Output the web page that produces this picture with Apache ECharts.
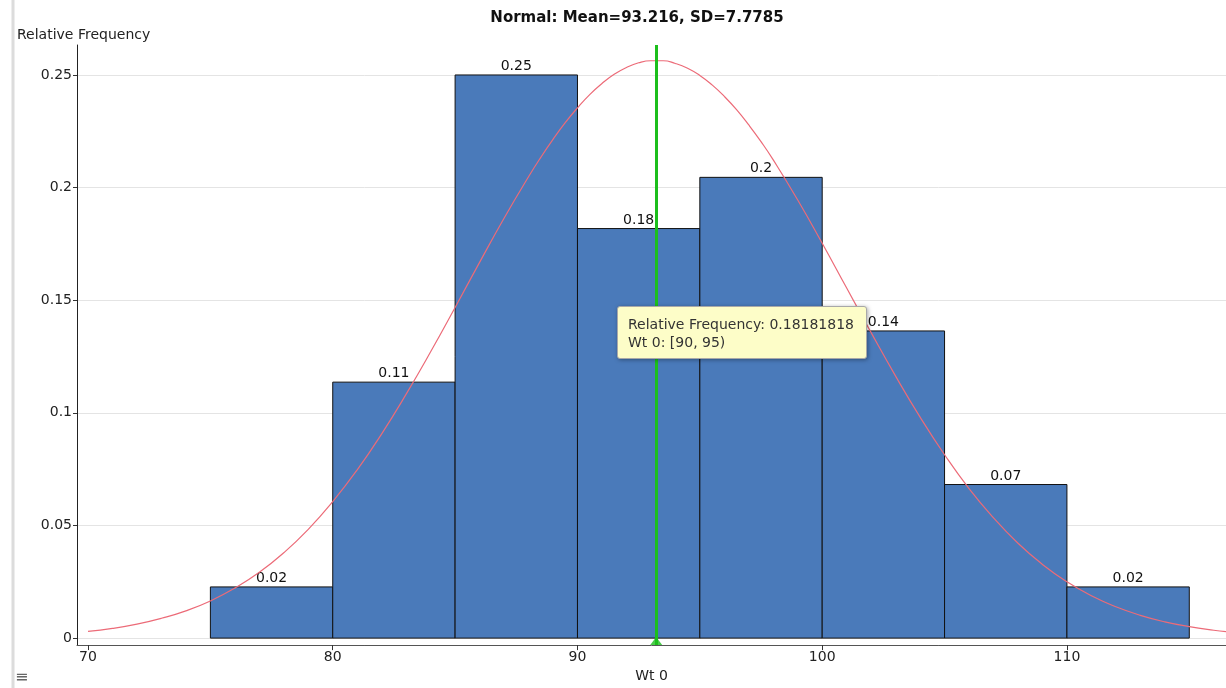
<!DOCTYPE html>
<html>
<head>
<meta charset="utf-8">
<script src="https://cdn.jsdelivr.net/npm/echarts@6/dist/echarts.min.js"></script>
<style>
  html, body { margin: 0; padding: 0; background: #fff; }
  #main { width: 1226px; height: 688px; }
</style>
</head>
<body>
<div id="main"></div>
<script>
var title = 'Normal: Mean=93.216, SD=7.7785';
var mean = 93.216;

// histogram bins [start, end) and relative frequencies
var binStart = [75, 80, 85, 90, 95, 100, 105, 110];
var binEnd = [80, 85, 90, 95, 100, 105, 110, 115];
var relFreq = [0.02272727, 0.11363636, 0.25, 0.18181818, 0.20454545, 0.13636364, 0.06818182, 0.02272727];

// normal curve
var curveX = [70, 71, 72, 73, 74, 75, 76, 77, 78, 79, 80, 81, 82, 83, 84, 85, 86, 87, 88, 88.5, 89, 89.5, 90, 90.5,
              91, 91.5, 92, 92.5, 93, 93.5, 94, 94.5, 95, 95.5, 96, 96.5, 97, 97.5, 98, 99, 100, 101, 102, 103, 104,
              105, 106, 107, 108, 109, 110, 111, 112, 113, 114, 115, 116, 116.5];
var curveY = [0.0030, 0.0043, 0.0062, 0.0088, 0.0121, 0.0165, 0.0222, 0.0292, 0.0379, 0.0483, 0.0606, 0.0747,
              0.0907, 0.1083, 0.1271, 0.1468, 0.1668, 0.1864, 0.2048, 0.2134, 0.2214, 0.2288, 0.2354, 0.2413,
              0.2462, 0.2503, 0.2533, 0.2554, 0.2563, 0.2563, 0.2551, 0.2530, 0.2498, 0.2456, 0.2405, 0.2346,
              0.2278, 0.2204, 0.2123, 0.1945, 0.1753, 0.1554, 0.1356, 0.1163, 0.0981, 0.0814, 0.0664, 0.0534,
              0.0421, 0.0327, 0.0250, 0.0188, 0.0139, 0.0101, 0.0072, 0.0051, 0.0035, 0.0029];

var xTicks = [70, 80, 90, 100, 110];
var yTicks = [0, 0.05, 0.1, 0.15, 0.2, 0.25];

var font = 'DejaVu Sans, Verdana, sans-serif';

var barData = [];
for (var i = 0; i < binStart.length; i++) {
    barData.push([binStart[i], binEnd[i], relFreq[i]]);
}
var curveData = [];
for (var j = 0; j < curveX.length; j++) {
    curveData.push([curveX[j], curveY[j]]);
}

var yMin = -0.0031, yMax = 0.2633;

var myChart = echarts.init(document.getElementById('main'));
var option = {
    animation: false,
    backgroundColor: '#fff',
    title: {
        text: title,
        left: 632,
        top: 6,
        textAlign: 'center',
        textStyle: { fontFamily: font, fontSize: 15, fontWeight: 'bold', color: '#111' }
    },
    tooltip: {
        trigger: 'item',
        alwaysShowContent: true,
        transitionDuration: 0,
        position: [617, 306],
        backgroundColor: '#fdfdc8',
        borderColor: '#a8a8a8',
        borderWidth: 1,
        padding: [8, 12, 7, 10],
        extraCssText: 'border-radius:3px;box-shadow:1px 1px 4px rgba(0,0,0,0.35);line-height:18px;',
        textStyle: { fontFamily: font, fontSize: 14, color: '#333' },
        formatter: function (p) {
            return 'Relative Frequency: ' + p.value[2] + '<br/>Wt 0: [' + p.value[0] + ', ' + p.value[1] + ')';
        }
    },
    grid: { left: 77, right: 0, top: 45, bottom: 40 },
    xAxis: {
        type: 'value',
        min: 69.55,
        max: 116.5,
        name: 'Wt 0',
        nameLocation: 'middle',
        nameGap: 23,
        nameTextStyle: { fontFamily: font, fontSize: 14, color: '#222' },
        axisLine: { onZero: false, lineStyle: { color: '#555', width: 1 } },
        axisTick: { show: true, length: 5, customValues: xTicks, lineStyle: { color: '#333' } },
        axisLabel: { customValues: xTicks, margin: 5, fontFamily: font, fontSize: 14, color: '#222' },
        splitLine: { show: false }
    },
    yAxis: {
        type: 'value',
        min: yMin,
        max: yMax,
        name: 'Relative Frequency',
        nameLocation: 'end',
        nameGap: 3,
        nameTextStyle: { fontFamily: font, fontSize: 14, color: '#222', align: 'left', padding: [0, 0, 0, -60] },
        axisLine: { show: true, lineStyle: { color: '#222', width: 1 } },
        axisTick: { show: true, length: 4, customValues: yTicks, lineStyle: { color: '#333' } },
        axisLabel: {
            customValues: yTicks, margin: 5, fontFamily: font, fontSize: 14, color: '#222',
            formatter: function (v) { return String(Math.round(v * 100) / 100); }
        },
        splitLine: { show: false }
    },
    series: [
        {
            // grid lines behind the bars
            type: 'line',
            data: [],
            z: 0,
            silent: true,
            markLine: {
                z: 0,
                silent: true,
                symbol: 'none',
                label: { show: false },
                lineStyle: { color: '#e4e4e4', type: 'solid', width: 1 },
                data: yTicks.map(function (v) { return { yAxis: v }; })
            }
        },
        {
            type: 'custom',
            name: 'Relative Frequency',
            z: 2,
            data: barData,
            encode: { x: [0, 1], y: 2 },
            renderItem: function (params, api) {
                var p0 = api.coord([api.value(0), api.value(2)]);
                var p1 = api.coord([api.value(1), 0]);
                var v = api.value(2);
                return {
                    type: 'rect',
                    shape: { x: p0[0], y: p0[1], width: p1[0] - p0[0], height: p1[1] - p0[1] },
                    style: { fill: '#4a7aba', stroke: '#111', lineWidth: 1 },
                    textContent: {
                        style: {
                            text: String(Math.round(v * 100) / 100),
                            fontFamily: font, fontSize: 14, fill: '#111'
                        }
                    },
                    textConfig: { position: 'top', distance: 1 }
                };
            }
        },
        {
            type: 'line',
            data: curveData,
            z: 3,
            smooth: true,
            silent: true,
            showSymbol: false,
            lineStyle: { color: '#ec6b78', width: 1.2 },
            tooltip: { show: false }
        },
        {
            type: 'scatter',
            data: [[mean, yMin]],
            z: 4,
            silent: true,
            symbol: 'triangle',
            symbolSize: [12, 8],
            symbolOffset: [0, -4],
            itemStyle: { color: '#1cbf1c' },
            tooltip: { show: false },
            markLine: {
                silent: true,
                symbol: 'none',
                label: { show: false },
                lineStyle: { color: '#1cbf1c', type: 'solid', width: 3 },
                data: [{ xAxis: mean }]
            }
        }
    ],
    graphic: [
        {
            type: 'line',
            shape: { x1: 13, y1: 0, x2: 13, y2: 688 },
            style: { stroke: '#dcdcdc', lineWidth: 3 },
            silent: true
        },
        {
            type: 'text',
            left: 15,
            top: 670,
            style: { text: '≡', fontFamily: font, fontSize: 16, fill: '#666' },
            silent: true
        }
    ]
};
myChart.setOption(option);
myChart.dispatchAction({ type: 'showTip', seriesIndex: 1, dataIndex: 3 });
</script>
</body>
</html>
